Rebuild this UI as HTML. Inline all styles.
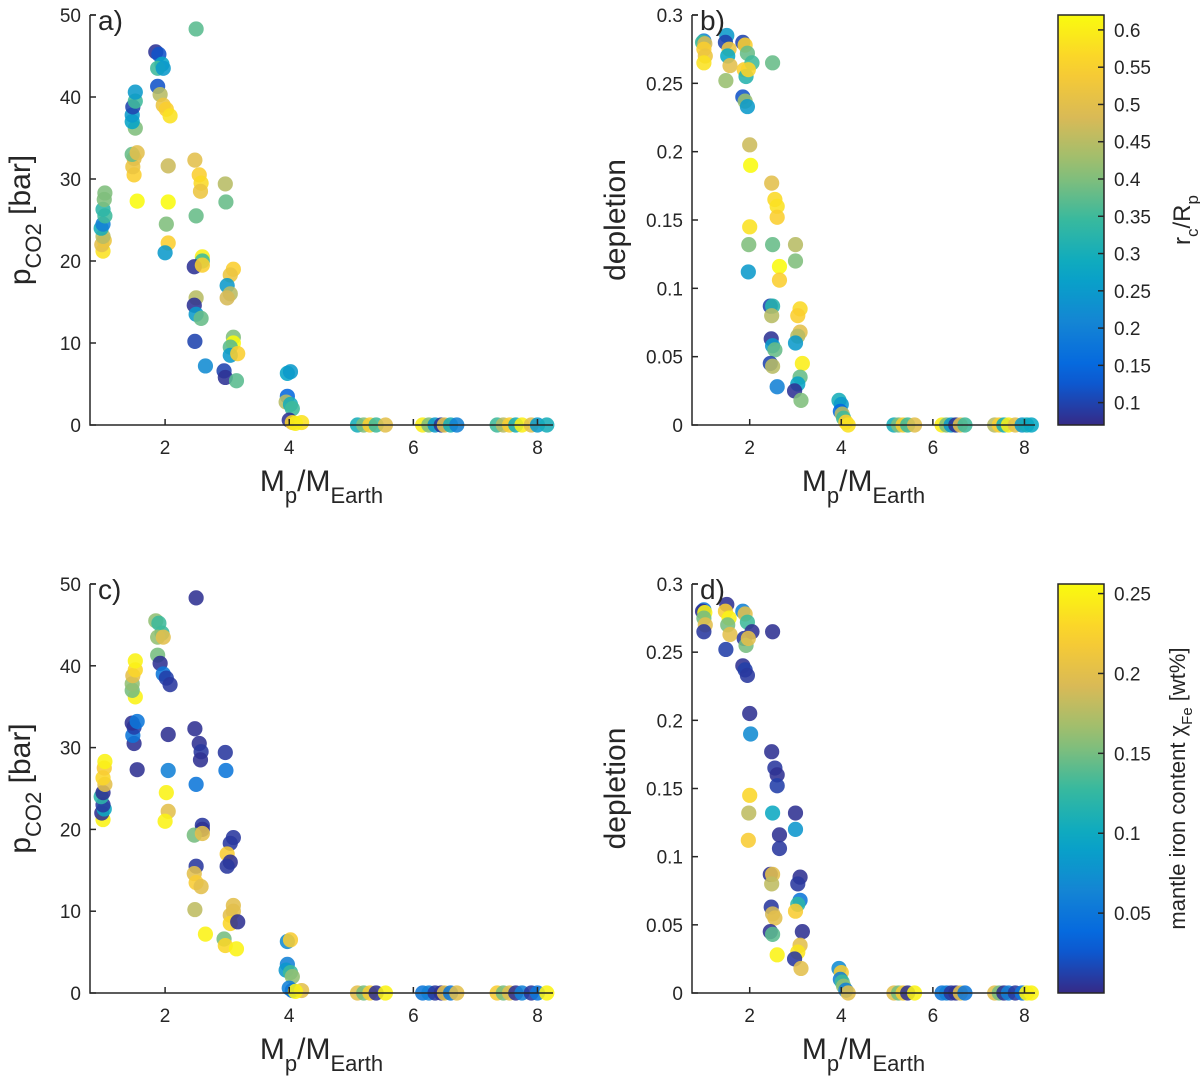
<!DOCTYPE html>
<html><head><meta charset="utf-8"><style>
body{margin:0;background:#fff;}
svg text{font-family:"Liberation Sans",sans-serif;fill:#262626;}
</style></head><body>
<svg id="fig" width="1200" height="1079" xmlns="http://www.w3.org/2000/svg"></svg>
<script>
// Panel a/c data: planet mass, CO2 pressure, core radius fraction, mantle iron
const massAC=[1.0,0.98,1.02,1.0,0.97,1.0,1.03,1.0,1.02,1.03,
1.55,1.5,1.48,1.5,1.47,1.55,1.52,1.47,1.47,1.48,1.52,1.52,
1.85,1.9,1.95,1.88,1.97,1.88,1.92,1.97,2.02,2.08,
2.05,2.05,2.02,2.05,2.0,
2.5,2.48,2.55,2.58,2.57,2.5,2.6,2.6,2.47,2.5,2.47,2.5,2.58,2.48,2.65,2.6,
2.97,2.98,3.1,3.05,3.0,3.05,3.0,3.1,3.1,3.05,3.05,3.17,2.95,2.97,3.15,
3.97,4.02,3.97,3.95,4.02,4.05,4.0,4.05,4.2,4.1,
5.1,5.2,5.3,5.4,5.55,6.15,6.25,6.35,6.45,6.5,6.6,6.7,7.35,7.45,7.55,7.65,7.75,7.9,8.0,8.15];
const pco2=[21.2,22,22.5,23,24,24.5,25.5,26.3,27.5,28.3,
27.3,30.5,31.5,32.5,33,33.2,36.2,37,37.8,38.8,39.5,40.6,
45.5,45.2,44,43.5,43.5,41.3,40.3,39,38.5,37.7,
31.6,27.2,24.5,22.2,21,
48.3,32.3,30.5,29.5,28.5,25.5,20.5,20,19.3,15.5,14.6,13.5,13,10.2,7.2,19.5,
29.4,27.2,19,18.3,17,16,15.5,10.7,10,9.5,8.5,8.7,6.6,5.8,5.4,
6.3,6.5,3.5,2.8,2.5,2,0.6,0.3,0.3,0.2,
0,0,0,0,0,0,0,0,0,0,0,0,0,0,0,0,0,0,0,0];
const rcA=[0.58,0.5,0.52,0.45,0.3,0.2,0.35,0.33,0.4,0.4,
0.62,0.55,0.52,0.5,0.38,0.5,0.4,0.27,0.25,0.1,0.35,0.25,
0.08,0.12,0.27,0.35,0.25,0.12,0.45,0.52,0.55,0.58,
0.47,0.62,0.4,0.55,0.25,
0.37,0.5,0.55,0.57,0.52,0.38,0.6,0.35,0.08,0.45,0.08,0.25,0.38,0.1,0.22,0.55,
0.45,0.38,0.55,0.52,0.25,0.45,0.48,0.4,0.62,0.37,0.25,0.55,0.1,0.08,0.37,
0.27,0.25,0.15,0.45,0.3,0.35,0.08,0.55,0.58,0.6,
0.3,0.4,0.55,0.35,0.5,0.6,0.4,0.25,0.08,0.5,0.3,0.2,0.35,0.45,0.55,0.3,0.6,0.5,0.25,0.3];
const feC=[0.25,0.004,0.1,0.008,0.12,0.004,0.2,0.23,0.22,0.25,
0.004,0.004,0.05,0.012,0.004,0.05,0.25,0.15,0.16,0.2,0.23,0.25,
0.16,0.13,0.13,0.16,0.2,0.15,0.004,0.05,0.012,0.008,
0.004,0.06,0.25,0.2,0.25,
0.004,0.004,0.004,0.008,0.004,0.05,0.008,0.004,0.15,0.008,0.2,0.22,0.2,0.18,0.25,0.2,
0.008,0.05,0.008,0.008,0.22,0.004,0.008,0.2,0.2,0.2,0.23,0.004,0.15,0.23,0.25,
0.07,0.22,0.06,0.08,0.13,0.16,0.06,0.05,0.2,0.25,
0.2,0.15,0.22,0.004,0.25,0.05,0.06,0.008,0.004,0.2,0.05,0.2,0.22,0.15,0.2,0.004,0.06,0.008,0.05,0.25];
// Panel b/d data: planet mass, depletion, core radius fraction, mantle iron
const massBD=[1.0,0.97,1.02,1.0,1.03,1.0,
1.5,1.47,1.55,1.52,1.57,1.48,
1.85,1.9,1.95,1.88,1.92,1.85,1.9,1.95,
2.05,1.97,2.0,2.02,2.0,1.98,1.97,
2.5,2.48,2.55,2.6,2.6,2.5,2.45,2.5,2.48,2.47,2.5,2.55,2.45,2.5,2.6,2.65,2.65,
3.0,3.0,3.1,3.05,3.1,3.05,3.0,3.15,3.1,3.05,2.98,3.12,
3.95,4.0,3.98,4.02,4.05,4.1,4.15,
5.15,5.25,5.35,5.45,5.6,6.2,6.3,6.4,6.5,6.6,6.7,7.35,7.45,7.55,7.65,7.8,7.95,8.05,8.15];
const depl=[0.281,0.28,0.279,0.275,0.27,0.265,
0.285,0.28,0.275,0.27,0.263,0.252,
0.28,0.278,0.272,0.26,0.255,0.24,0.237,0.233,
0.265,0.26,0.205,0.19,0.145,0.132,0.112,
0.265,0.177,0.165,0.16,0.152,0.132,0.087,0.087,0.08,0.063,0.058,0.055,0.045,0.043,0.028,0.116,0.106,
0.132,0.12,0.085,0.08,0.068,0.065,0.06,0.045,0.035,0.03,0.025,0.018,
0.018,0.015,0.01,0.008,0.005,0.002,0,
0,0,0,0,0,0,0,0,0,0,0,0,0,0,0,0,0,0,0];
const rcB=[0.2,0.35,0.48,0.55,0.52,0.58,
0.25,0.1,0.52,0.28,0.5,0.42,
0.1,0.55,0.38,0.55,0.32,0.12,0.42,0.25,
0.35,0.56,0.47,0.62,0.58,0.4,0.25,
0.38,0.5,0.57,0.58,0.55,0.38,0.1,0.32,0.45,0.08,0.25,0.38,0.1,0.45,0.2,0.62,0.55,
0.45,0.4,0.57,0.55,0.5,0.45,0.25,0.6,0.38,0.27,0.08,0.4,
0.3,0.25,0.15,0.45,0.35,0.55,0.58,
0.3,0.4,0.55,0.35,0.5,0.6,0.4,0.25,0.08,0.5,0.35,0.45,0.55,0.3,0.6,0.5,0.25,0.3,0.28];
const feD=[0.05,0.004,0.25,0.15,0.2,0.008,
0.004,0.22,0.25,0.15,0.2,0.012,
0.06,0.2,0.13,0.008,0.15,0.004,0.012,0.008,
0.004,0.2,0.004,0.07,0.23,0.18,0.22,
0.004,0.004,0.008,0.004,0.012,0.1,0.004,0.2,0.18,0.008,0.19,0.2,0.004,0.14,0.25,0.004,0.008,
0.004,0.08,0.004,0.008,0.05,0.12,0.22,0.004,0.2,0.24,0.008,0.2,
0.07,0.22,0.06,0.13,0.16,0.06,0.2,
0.2,0.15,0.22,0.004,0.25,0.05,0.06,0.008,0.004,0.2,0.05,0.2,0.15,0.004,0.06,0.008,0.05,0.25,0.25];

const NS="http://www.w3.org/2000/svg";
const svg=document.getElementById('fig');
function mk(tag,attrs,parent){const e=document.createElementNS(NS,tag);for(const k in attrs)e.setAttribute(k,attrs[k]);(parent||svg).appendChild(e);return e;}
const stops=[[53,42,135],[3,99,225],[20,133,212],[6,167,198],[56,185,158],[146,191,115],[217,186,86],[252,206,46],[249,251,14]];
function parula(t){if(!isFinite(t))t=0;t=Math.max(0,Math.min(1,t));const f=t*(stops.length-1);const i=Math.min(stops.length-2,Math.floor(f));const u=f-i;const a=stops[i],b=stops[i+1];return `rgb(${Math.round(a[0]+(b[0]-a[0])*u)},${Math.round(a[1]+(b[1]-a[1])*u)},${Math.round(a[2]+(b[2]-a[2])*u)})`;}

function panel(o){
  const g=mk('g',{});
  
  
  const sx=v=>o.x0+(v-o.xmin)/(o.xmax-o.xmin)*(o.x1-o.x0);
  const sy=v=>o.yb-(v-o.ymin)/(o.ymax-o.ymin)*(o.yb-o.yt);
  const pg=mk('g',{},g);
  
  
  for(let i=0;i<o.xs.length;i++){
    const c=mk('circle',{cx:sx(o.xs[i]),cy:sy(o.ys[i]),r:7.6,fill:parula((o.cs[i]-o.cmin)/(o.cmax-o.cmin)),'fill-opacity':0.88},pg);
    
    
  }
  const ax=mk('path',{d:`M${o.x0},${o.yt}H${o.x0+6}M${o.x0},${o.yt}V${o.yb}H${o.x1}`,stroke:'#262626','stroke-width':1.5,fill:'none'},g);
  
  
  o.xt.forEach(v=>{mk('line',{x1:sx(v),x2:sx(v),y1:o.yb,y2:o.yb-6,stroke:'#262626','stroke-width':1.5},g);
    const t=mk('text',{x:sx(v),y:o.yb+29,'text-anchor':'middle','font-size':19},g);t.textContent=v;
    });
  o.yt_.forEach((v,k)=>{mk('line',{x1:o.x0,x2:o.x0+6,y1:sy(v),y2:sy(v),stroke:'#262626','stroke-width':1.5},g);
    const t=mk('text',{x:o.x0-9,y:sy(v)+7,'text-anchor':'end','font-size':19},g);t.textContent=o.ytl[k];
    });
  const lb=mk('text',{x:o.x0+8,y:o.yt+15,'font-size':28},g);lb.textContent=o.label;
  
  const xl=mk('text',{x:(o.x0+o.x1)/2,y:o.yb+66,'text-anchor':'middle','font-size':30},g);
  xl.innerHTML='M<tspan dy="12" font-size="22">p</tspan><tspan dy="-12">/M</tspan><tspan dy="12" font-size="22">Earth</tspan>';
  
  const yc=(o.yt+o.yb)/2;
  const yl=mk('text',{x:0,y:0,'text-anchor':'middle','font-size':30,transform:`translate(${o.ylx},${yc}) rotate(-90)`},g);
  if(o.ylab==='p') yl.innerHTML='p<tspan dy="11" font-size="22">CO2</tspan><tspan dy="-11"> [bar]</tspan>';
  else yl.textContent='depletion';
  
}
function colorbar(o){
  const g=mk('g',{});
  
  
  const id='grad'+o.yt;
  const d=mk('defs',{},g);const lg=mk('linearGradient',{id:id,x1:0,y1:1,x2:0,y2:0},d);
  for(let i=0;i<=20;i++)mk('stop',{offset:i/20,'stop-color':parula(i/20)},lg);
  mk('rect',{x:1058,y:o.yt,width:46,height:o.yb-o.yt,fill:`url(#${id})`,stroke:'#262626','stroke-width':1.5},g);
  const sy=v=>o.yb-(v-o.cmin)/(o.cmax-o.cmin)*(o.yb-o.yt);
  o.ticks.forEach((v,k)=>{mk('line',{x1:1098,x2:1104,y1:sy(v),y2:sy(v),stroke:'#262626','stroke-width':1.5},g);
    const t=mk('text',{x:1114,y:sy(v)+7,'font-size':19},g);t.textContent=o.labels[k];
    });
  const c=(o.yt+o.yb)/2;
  const t=mk('text',{x:0,y:0,'text-anchor':'middle','font-size':o.fs,transform:`translate(${o.lx},${c}) rotate(-90)`},g);
  t.innerHTML=o.html;
  
}
const xticks=[2,4,6,8];
const pTicks=[0,10,20,30,40,50];
const dTicks=[0,0.05,0.1,0.15,0.2,0.25,0.3];
const dLabels=['0','0.05','0.1','0.15','0.2','0.25','0.3'];
panel({name:'panel-a',x0:90,x1:553,xmin:0.79,xmax:8.25,yt:15,yb:425,ymin:0,ymax:50,xs:massAC,ys:pco2,cs:rcA,cmin:0.07,cmax:0.62,xt:xticks,yt_:pTicks,ytl:pTicks,label:'a)',ylab:'p',ylx:30});
panel({name:'panel-b',x0:692,x1:1035,xmin:0.74,xmax:8.23,yt:15,yb:425,ymin:0,ymax:0.3,xs:massBD,ys:depl,cs:rcB,cmin:0.07,cmax:0.62,xt:xticks,yt_:dTicks,ytl:dLabels,label:'b)',ylab:'d',ylx:625});
panel({name:'panel-c',x0:90,x1:553,xmin:0.79,xmax:8.25,yt:584,yb:993,ymin:0,ymax:50,xs:massAC,ys:pco2,cs:feC,cmin:0,cmax:0.256,xt:xticks,yt_:pTicks,ytl:pTicks,label:'c)',ylab:'p',ylx:30});
panel({name:'panel-d',x0:692,x1:1035,xmin:0.74,xmax:8.23,yt:584,yb:993,ymin:0,ymax:0.3,xs:massBD,ys:depl,cs:feD,cmin:0,cmax:0.256,xt:xticks,yt_:dTicks,ytl:dLabels,label:'d)',ylab:'d',ylx:625});
colorbar({name:'colorbar-rc',yt:15,yb:425,cmin:0.07,cmax:0.62,ticks:[0.1,0.15,0.2,0.25,0.3,0.35,0.4,0.45,0.5,0.55,0.6],labels:['0.1','0.15','0.2','0.25','0.3','0.35','0.4','0.45','0.5','0.55','0.6'],fs:24,lx:1190,html:'r<tspan dy="8" font-size="17">c</tspan><tspan dy="-8">/R</tspan><tspan dy="8" font-size="17">p</tspan>'});
colorbar({name:'colorbar-fe',yt:584,yb:993,cmin:0,cmax:0.256,ticks:[0.05,0.1,0.15,0.2,0.25],labels:['0.05','0.1','0.15','0.2','0.25'],fs:22,lx:1185,html:'mantle iron content χ<tspan dy="7" font-size="15">Fe</tspan><tspan dy="-7"> [wt%]</tspan>'});
</script>
</body></html>
